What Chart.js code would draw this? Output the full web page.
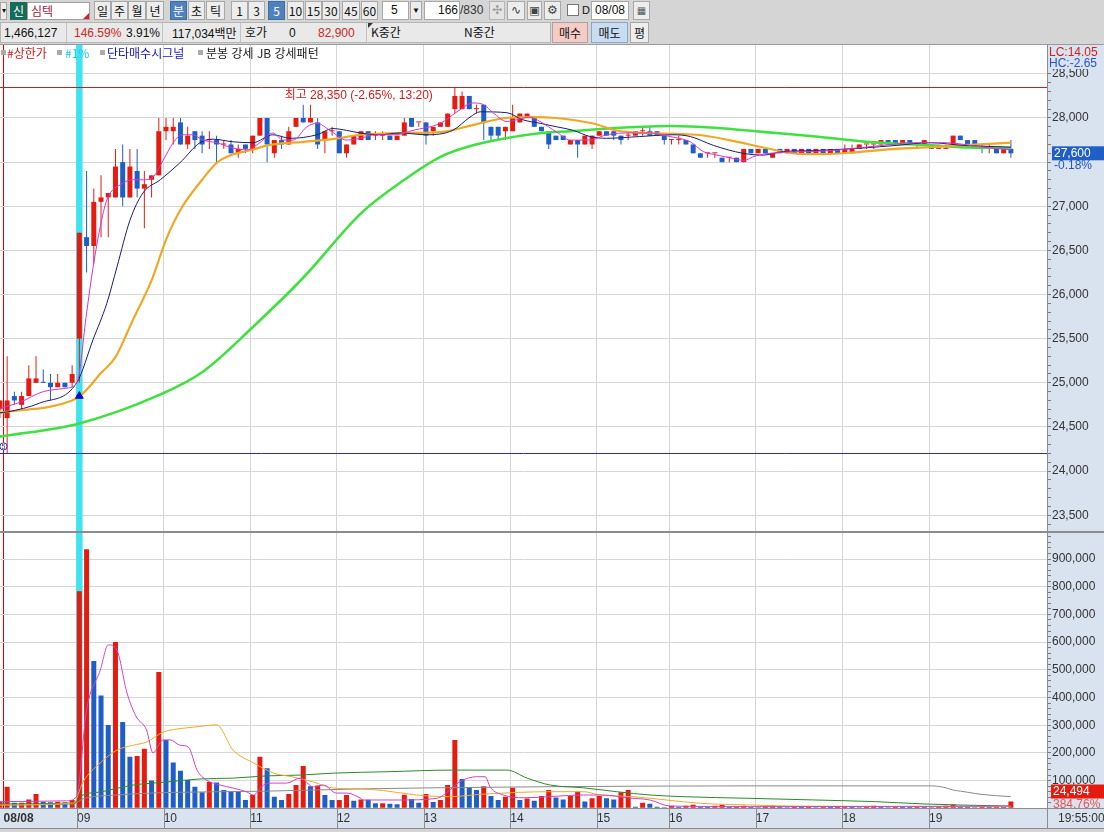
<!DOCTYPE html>
<html lang="ko">
<head>
<meta charset="utf-8">
<title>심텍 5분봉 차트</title>
<script src="https://cdn.jsdelivr.net/npm/chart.js"></script>
<style>
*{box-sizing:border-box}
html,body{margin:0;padding:0}
body{width:1104px;height:832px;overflow:hidden;position:relative;background:#d5d5d5;font-family:"Liberation Sans","Noto Sans CJK KR",sans-serif;font-size:12px;color:#111}
.a{position:absolute;white-space:nowrap;line-height:1}
.b{position:absolute;top:1px;height:19px;line-height:17px;text-align:center;background:#ededed;border:1px solid #a8a8a8;color:#111;font-family:"Noto Sans CJK KR","Liberation Sans",sans-serif;font-size:12px}
.s{background:#4f81bd;border-color:#3d6ea8;color:#fff}
.k{font-family:"Noto Sans CJK KR","Liberation Sans",sans-serif}
canvas{position:absolute;left:0;display:block}
#leg{position:absolute;left:0;top:45px;width:400px;height:15px;font-family:"Noto Sans CJK KR",sans-serif;font-size:12px;z-index:5}
#leg span{position:absolute;top:0;line-height:15px;white-space:nowrap}
#leg i{position:absolute;top:5px;width:5px;height:5px;background:#ababab}
</style>
</head>
<body>
<!-- toolbar -->
<div class="a" style="left:0;top:0;width:1104px;height:45px;background:#d5d5d5;border-bottom:1px solid #9a9a9a"></div>
<div class="a" style="left:0;top:2px;width:7px;height:18px;background:#ededed;border:1px solid #a8a8a8;font-size:8px;line-height:16px;text-align:center">▾</div>
<div class="a k" style="left:10px;top:2px;width:17px;height:18px;background:#176b5b;color:#fff;text-align:center;line-height:18px">신</div>
<div class="a k" style="left:27px;top:2px;width:63px;height:18px;background:#fff;border:1px solid #a0a0a0;color:#a01840;padding-left:3px;line-height:16px">심텍</div>
<div class="a" style="left:83px;top:13px;width:0;height:0;border-left:6px solid transparent;border-bottom:6px solid #d0202a"></div>
<div id="btns"></div>
<div class="a" style="left:382px;top:1px;width:27px;height:19px;background:#fff;border:1px solid #a8a8a8;line-height:17px;padding-left:8px">5</div>
<div class="a" style="left:410px;top:1px;width:12px;height:19px;background:#ededed;border:1px solid #a8a8a8;line-height:17px;font-size:8px;text-align:center">▼</div>
<div class="a" style="left:424px;top:1px;width:36px;height:19px;background:#fff;border:1px solid #a8a8a8;line-height:17px;text-align:right;padding-right:1px">166</div>
<div class="a" style="left:460px;top:1px;line-height:19px;color:#333">/830</div>
<div class="a" style="left:489px;top:1px;width:16px;height:19px;background:#e4e4e4;border:1px solid #b5b5b5;color:#999;text-align:center;line-height:17px;font-family:'DejaVu Sans'">✣</div>
<div class="a" style="left:507px;top:1px;width:18px;height:19px;background:#ededed;border:1px solid #a8a8a8;color:#444;text-align:center;line-height:17px;font-family:'DejaVu Sans'">∿</div>
<div class="a" style="left:527px;top:1px;width:15px;height:19px;background:#ededed;border:1px solid #a8a8a8;color:#444;text-align:center;line-height:17px;font-family:'DejaVu Sans';font-size:11px">▣</div>
<div class="a" style="left:544px;top:1px;width:17px;height:19px;background:#ededed;border:1px solid #a8a8a8;color:#444;text-align:center;line-height:17px;font-family:'DejaVu Sans'">⚙</div>
<div class="a" style="left:567px;top:4px;width:12px;height:12px;background:#fff;border:1px solid #777"></div>
<div class="a" style="left:582px;top:2px;line-height:17px;font-size:11px">D</div>
<div class="a" style="left:591px;top:1px;width:38px;height:19px;background:#fff;border:1px solid #a8a8a8;line-height:17px;padding-left:3px">08/08</div>
<div class="a" style="left:633px;top:1px;width:17px;height:19px;background:#ededed;border:1px solid #a8a8a8;color:#555;text-align:center;line-height:17px;font-family:'DejaVu Sans';font-size:10px">▦</div>

<div class="a" style="left:0;top:22px;width:551px;height:21px;background:#e9e9e9;border:1px solid #b5b5b5"></div>
<div class="a" style="left:66px;top:23px;width:1px;height:19px;background:#c3c3c3"></div>
<div class="a" style="left:162px;top:23px;width:1px;height:19px;background:#c3c3c3"></div>
<div class="a" style="left:240px;top:23px;width:1px;height:19px;background:#c3c3c3"></div>
<div class="a" style="left:366px;top:23px;width:1px;height:19px;background:#c3c3c3"></div>
<div class="a" style="left:4px;top:27px">1,466,127</div>
<div class="a" style="left:74px;top:27px;color:#c8281e">146.59%</div>
<div class="a" style="left:126px;top:27px">3.91%</div>
<div class="a" style="left:172px;top:27px">117,034<span class="k">백만</span></div>
<div class="a k" style="left:245px;top:26px">호가</div>
<div class="a" style="left:289px;top:27px">0</div>
<div class="a" style="left:318px;top:27px;color:#c8281e">82,900</div>
<div class="a" style="left:368px;top:23px;width:0;height:0;border-right:5px solid transparent;border-top:5px solid #333"></div>
<div class="a k" style="left:371px;top:26px">K중간</div>
<div class="a k" style="left:464px;top:26px">N중간</div>
<div class="a k" style="left:552px;top:22px;width:36px;height:21px;background:#f5cbc6;border:1px solid #b0a0a0;text-align:center;line-height:19px">매수</div>
<div class="a k" style="left:591px;top:22px;width:37px;height:21px;background:#c8dcf2;border:1px solid #8aa6c4;text-align:center;line-height:19px">매도</div>
<div class="a k" style="left:630px;top:22px;width:19px;height:21px;background:#ededed;border:1px solid #a8a8a8;text-align:center;line-height:19px">평</div>

<canvas id="price" width="1104" height="487" style="top:45px"></canvas>
<canvas id="vol" width="1104" height="300" style="top:532px"></canvas>

<div id="leg">
  <i style="left:1px"></i><span style="left:7px;color:#d01c1c">#상한가</span>
  <i style="left:57px"></i><span style="left:65px;color:#22c8e0">#1%</span>
  <i style="left:100px"></i><span style="left:107px;color:#1414c0">단타매수시그널</span>
  <i style="left:198px"></i><span style="left:206px;color:#222">분봉 강세 JB 강세패턴</span>
</div>

<script>
// ================= DATA =================
// candle index 0 = previous session's last bar, 1..10 = 08:00-08:45, 11 = 09:00 ... 140 = 19:55
const OPEN = [
 24700,24600,24850,24750,24850,25000,25000,25000,24950,25000,25000,
 25500,26650,26550,27050,27100,27100,27500,27100,27400,27200,
 27300,27350,27850,27850,27950,27700,27850,27800,27750,27750,
 27700,27700,27600,27700,27650,27800,28000,27600,27750,27700,
 27900,28000,27950,27950,27750,27850,27850,27600,27700,27750,
 27850,27800,27800,27800,27750,27800,28000,27950,27950,27850,
 27900,27900,28100,28100,28250,28100,28150,27900,27900,27850,
 27850,27950,28000,28000,27900,27850,27800,27800,27700,27750,
 27700,27700,27800,27850,27850,27800,27800,27800,27850,27850,
 27850,27800,27750,27750,27750,27700,27600,27600,27600,27550,
 27550,27550,27500,27650,27600,27650,27550,27650,27600,27650,
 27600,27650,27600,27650,27600,27650,27600,27600,27650,27700,
 27700,27700,27750,27750,27700,27750,27700,27700,27700,27650,
 27650,27700,27800,27750,27750,27650,27650,27650,27600,27650];
const HIGH = [
 24800,25300,24900,24900,25200,25300,25150,25100,25100,25000,25200,
 26700,27400,27200,27350,27150,27650,27700,27650,27650,27400,
 27350,28000,28000,28000,28000,27900,27850,27850,27850,27800,
 27750,27750,27700,27700,27800,28000,28000,27750,27800,27900,
 28000,28150,28150,28000,27850,27900,27850,27700,27800,27850,
 27850,27850,27850,27800,27800,28000,28000,27950,27950,27900,
 27950,28050,28350,28300,28250,28150,28150,27900,27900,27900,
 28150,28050,28050,28000,27900,27850,27800,27800,27750,27750,
 27800,27800,27850,27850,27850,27800,27850,27850,27900,27900,
 27850,27800,27750,27800,27750,27700,27600,27600,27600,27550,
 27550,27550,27650,27650,27650,27650,27600,27650,27650,27650,
 27650,27650,27650,27650,27650,27650,27700,27700,27700,27700,
 27700,27750,27750,27750,27750,27750,27700,27750,27700,27700,
 27700,27800,27800,27750,27750,27700,27700,27650,27650,27750];
const LOW = [
 24600,24200,24750,24700,24850,25000,25000,24800,24950,24950,24950,
 25000,26250,26350,26650,26650,27100,27000,27100,27100,26750,
 27100,27350,27750,27700,27700,27650,27650,27600,27650,27500,
 27650,27600,27550,27600,27600,27800,27500,27550,27650,27700,
 27900,27950,27950,27650,27600,27800,27600,27550,27700,27750,
 27750,27750,27750,27750,27750,27800,27900,27900,27700,27800,
 27900,27900,28050,28100,28100,28050,27750,27750,27750,27750,
 27850,27950,28000,27900,27850,27650,27750,27750,27700,27550,
 27700,27650,27800,27800,27750,27700,27750,27800,27800,27800,
 27800,27700,27700,27700,27700,27600,27550,27550,27550,27500,
 27500,27500,27500,27600,27600,27600,27550,27600,27600,27600,
 27600,27600,27600,27600,27600,27600,27600,27600,27650,27650,
 27650,27700,27700,27700,27700,27700,27650,27700,27650,27650,
 27650,27700,27750,27700,27700,27600,27600,27600,27600,27550];
const CLOSE = [
 24800,24800,24800,24850,25050,25050,25000,24950,25000,24950,25100,
 26700,26550,27050,27100,27150,27450,27100,27450,27200,27250,
 27350,27850,27900,27900,27700,27800,27750,27700,27750,27700,
 27700,27600,27650,27650,27800,28000,27700,27750,27700,27850,
 28000,27950,28000,27700,27850,27850,27600,27700,27800,27850,
 27750,27800,27800,27750,27800,27950,27900,27950,27800,27900,
 27950,28050,28250,28250,28100,28100,27950,27800,27800,27900,
 28000,28050,28050,27900,27850,27700,27750,27750,27750,27700,
 27800,27800,27850,27800,27800,27750,27800,27850,27850,27800,
 27800,27750,27750,27750,27700,27600,27550,27600,27600,27500,
 27550,27500,27650,27600,27650,27600,27600,27600,27650,27600,
 27650,27600,27650,27600,27650,27600,27650,27650,27700,27700,
 27700,27750,27700,27700,27750,27700,27700,27750,27650,27650,
 27650,27800,27750,27700,27700,27650,27650,27600,27650,27600];
const VOLUME = [
 24000,78000,20000,20000,32000,52000,24000,22000,24000,22000,30000,
 784000,935000,532000,407000,301000,600000,312000,186000,189000,215000,
 100000,492000,247000,165000,136000,102000,78000,58000,95000,93000,
 66000,61000,60000,30000,48000,186000,145000,42000,30000,52000,
 84000,153000,80000,82000,48000,30000,30000,48000,27000,32000,
 31000,18000,18000,16000,15000,49000,34000,20000,52000,23000,
 30000,84000,247000,106000,76000,66000,80000,44000,30000,42000,
 74000,30000,35000,27000,44000,66000,39000,32000,44000,60000,
 25000,36000,44000,36000,32000,58000,66000,6000,20000,16000,
 6000,3000,9000,6000,9000,13000,6000,5000,9000,13000,
 6000,6000,9000,5000,4000,7000,9000,6000,4000,8000,
 5000,6000,4000,7000,5000,6000,8000,5000,4000,6000,
 9000,5000,4000,7000,6000,5000,8000,6000,4000,5000,
 9000,14000,6000,5000,4000,7000,5000,6000,5000,24494];

// moving-average lines: [candle index, value]
const P_MA5 = [[0,24710],[2.8,24780],[6,24900],[9.3,24940],[10.7,25010],[12,25790],[12.9,26310],[13.9,26770],[14.8,27070],[17,27260],[18.4,27300],[19.8,27300],[21.2,27330],[22.6,27520],[24,27720],[25.2,27810],[26.7,27810],[28.1,27750],[30,27720],[32.3,27660],[34.2,27640],[36,27720],[37.8,27830],[39.2,27750],[40.6,27750],[42.5,27900],[43.9,27940],[45.7,27860],[48,27750],[49.9,27770],[52,27810],[54.7,27810],[57.2,27860],[61,27940],[63.3,28070],[65.5,28170],[67,28150],[68.3,28060],[70.2,27960],[73.4,28010],[74.8,27960],[77.1,27840],[79,27750],[81.7,27750],[84,27810],[87.3,27830],[90,27830],[92.8,27790],[95.6,27730],[97.4,27620],[99.3,27580],[101,27550],[103,27520],[104.6,27570],[106.6,27600],[115,27630],[118.7,27660],[122.3,27690],[126.5,27720],[131,27720],[136,27670],[140,27640]];
const P_MA10 = [[0,24660],[1,24670],[5.5,24770],[10.7,25010],[12.9,25490],[14.8,25900],[16.2,26310],[18,26840],[19.8,27150],[22.2,27300],[24.9,27490],[27.7,27720],[29.5,27760],[32.3,27730],[35,27720],[37.8,27810],[40.2,27770],[43.9,27810],[46.1,27880],[48,27860],[49.9,27830],[52.6,27810],[55.4,27830],[59.1,27810],[62.7,27860],[65.1,28010],[66.5,28070],[70.2,28060],[72.4,27980],[74.8,27940],[77.1,27900],[79.4,27860],[81.7,27790],[84,27770],[88.6,27790],[93.2,27810],[95.6,27790],[98.8,27690],[102.9,27600],[105.7,27580],[108.5,27620],[112.6,27630],[119.5,27660],[124.2,27690],[128.8,27720],[133.4,27690],[140,27670]];
const P_MA20 = [[0,24660],[10,24800],[11.5,24880],[14,25110],[16,25290],[18.4,25710],[21,26160],[23,26620],[25,26960],[28,27300],[30,27490],[32,27580],[35,27640],[37,27690],[42,27730],[46,27760],[50,27810],[56,27830],[61,27840],[65.5,27920],[70,28000],[74,28010],[77,28000],[82,27940],[86,27850],[96.5,27810],[101,27750],[106,27660],[110,27600],[114,27590],[119.5,27620],[124,27650],[129,27670],[133,27690],[140,27720]];
const P_MA60 = [[0,24390],[11,24540],[22,24860],[28,25120],[35,25630],[42,26190],[50,26920],[56,27300],[61,27560],[65.5,27690],[70,27770],[75,27830],[79,27850],[86,27890],[93,27910],[99,27890],[106,27840],[113,27790],[120,27730],[129,27690],[133,27670],[140,27660]];

const V_MA5 = [[0,24000],[9.2,27000],[10.6,42000],[12,355000],[13.9,499000],[15,590000],[16.2,571000],[17.6,416000],[18.9,330000],[20.3,283000],[21.2,200000],[22.6,247000],[23.6,247000],[24.9,228000],[26.1,221000],[27.3,138000],[28.6,102000],[30.5,84000],[32.3,73000],[34.2,59000],[35.1,48000],[36.5,84000],[37.9,91000],[39.7,91000],[41.6,109000],[43.4,77000],[44.8,84000],[46.6,55000],[48,55000],[49.9,37000],[50.3,30000],[55.4,30000],[60.5,36000],[62.3,66000],[63.7,96000],[66,114000],[67.2,114000],[67.9,76000],[69.7,48000],[72.5,38000],[80.8,48000],[83.6,48000],[86.8,38000],[90,30000],[92.8,8000],[103.9,6000],[140,8000]];
const V_MA20 = [[0,12000],[10.2,19000],[11.5,95000],[13.9,164000],[16.2,210000],[18.5,228000],[20.3,239000],[22.6,275000],[24.5,286000],[26.8,293000],[30,301000],[32.3,210000],[35.1,164000],[37.9,127000],[40.6,113000],[43.4,95000],[46.2,73000],[49.9,70000],[53.1,64000],[57.7,48000],[62.3,42000],[66.9,51000],[76.2,60000],[80.8,60000],[83.1,48000],[87.7,42000],[92.3,30000],[97,18000],[103.9,12000],[110,8000],[140,6000]];
const V_MA60 = [[0,16000],[10.2,19000],[11.5,48000],[13.9,59000],[18.5,84000],[23.1,95000],[27.7,106000],[32.3,109000],[36.9,117000],[41.6,120000],[46.2,127000],[53.6,132000],[62.8,138000],[70.2,138000],[73,109000],[76.2,84000],[80.8,74000],[85.4,60000],[90,48000],[94.6,42000],[103.9,36000],[112.9,30000],[121.2,24000],[127.7,16000],[132.7,12000],[140,8000]];
const V_MA120 = [[0,12000],[10.2,16000],[11.5,34000],[16.2,48000],[20.8,55000],[27.7,59000],[36.9,62000],[49.9,70000],[60,74000],[76.2,78000],[103.9,81000],[129,81000],[131,74000],[132,66000],[133,62000],[134,58000],[136,50000],[140,42000]];

const TIME_LABELS = ['08/08','09','10','11','12','13','14','15','16','17','18','19'];
const HOUR_IDX = [11,23,35,47,59,71,83,93,105,117,129];
const DAY_SEP = 0.5;
const PRICE_LABELS = [23500,24000,24500,25000,25500,26000,26500,27000,27500,28000,28500];
const VOL_LABELS = [100000,200000,300000,400000,500000,600000,700000,800000,900000];

const SIGNAL_IDX = 11, ARROW_PRICE = 24850;
const HIGH_PRICE = 28350, HIGH_IDX = 63, HIGH_TEXT = '최고 28,350 (-2.65%, 13:20)';
const LOW_PRICE = 24200;
const LAST_PRICE = 27600, LAST_CHG = '-0.18%';
const LC_TEXT = 'LC:14.05', HC_TEXT = 'HC:-2.65';
const LAST_VOL = 24494, VOL_RATIO = '384.76%';
const END_TIME = '19:55:00';

// ================= STYLE / LAYOUT =================
const RED = '#e61b10', BLUE = '#1f5ec6', CYAN = '#3ee4f2', GRID = '#d6d6d6', PANEL = '#d9e3ef', SEP_RED = '#e00000';
const FONT = '"Liberation Sans", "Noto Sans CJK KR", sans-serif';
const AXIS_W = 57, BAND_H = 19.7;
const X_MIN = 0.01, X_MAX = 145.0;
const P_MIN = 23321, P_MAX = 28827;
const V_MAX = 994000;
const GRID_SHIFT = 0.33;

const fmt = v => v.toLocaleString('en-US');
const IDX = OPEN.map((_, i) => i);
const upCandle = IDX.map(i => CLOSE[i] > OPEN[i] || (CLOSE[i] === OPEN[i] && (i === 0 || CLOSE[i] >= CLOSE[i - 1])));
const upVol = IDX.map(i => i === 0 || VOLUME[i] >= VOLUME[i - 1]);
const pts = arr => arr.map(([x, y]) => ({x, y}));
const TICK_POS = [DAY_SEP].concat(HOUR_IDX.map(v => v - GRID_SHIFT));

// buttons in top toolbar
const TOP_BUTTONS = [['일',94,17],['주',111,17],['월',128,18],['년',146,18],['분',170,17,1],['초',188,17],['틱',206,19],['1',231,17],['3',248,17],['5',268,17,1],['10',287,17],['15',305,17],['30',322,18],['45',342,18],['60',361,17]];
const bw = document.getElementById('btns');
TOP_BUTTONS.forEach(([t, l, w, s]) => {
  const d = document.createElement('div');
  d.className = 'b' + (s ? ' s' : '');
  d.style.left = l + 'px'; d.style.width = w + 'px';
  d.textContent = t; bw.appendChild(d);
});

function xScale(show) {
  return {
    type: 'linear', min: X_MIN, max: X_MAX, offset: false,
    afterBuildTicks: ax => { ax.ticks = TICK_POS.map(v => ({value: v})); },
    afterFit: ax => { ax.height = show ? BAND_H : 0; ax.paddingLeft = 0; ax.paddingRight = 0; },
    grid: { offset: false, color: c => c.index === 0 ? SEP_RED : GRID, lineWidth: 1, drawTicks: false },
    border: { display: false },
    ticks: {
      display: show, autoSkip: false, maxRotation: 0, minRotation: 0, align: 'start', padding: 3, color: '#333',
      font: c => ({family: FONT, size: 12, weight: c.index === 0 ? 'bold' : 'normal'}),
      callback: (v, i) => TIME_LABELS[i]
    }
  };
}

function panelBackground(chart) {
  const {ctx, chartArea: a, width, height} = chart;
  ctx.save();
  ctx.fillStyle = '#ffffff'; ctx.fillRect(0, 0, a.right, height);
  ctx.fillStyle = PANEL; ctx.fillRect(a.right, 0, width - a.right, height);
  ctx.restore();
}

function drawSignal(chart) {
  const {ctx, chartArea: a, scales: {x}} = chart;
  const sx = x.getPixelForValue(SIGNAL_IDX);
  ctx.save();
  ctx.fillStyle = CYAN;
  ctx.fillRect(sx - 3.2, a.top, 6.4, a.bottom - a.top);
  ctx.restore();
}

const pricePlugin = {
  id: 'pricePanel',
  beforeDraw(chart) { panelBackground(chart); },
  beforeDatasetsDraw(chart) {
    const {ctx, chartArea: a, scales: {y}} = chart;
    drawSignal(chart);
    ctx.save();
    ctx.lineWidth = 1;
    let yy = Math.round(y.getPixelForValue(HIGH_PRICE)) + 0.5;
    ctx.strokeStyle = '#c81e1e';
    ctx.beginPath(); ctx.moveTo(a.left, yy); ctx.lineTo(a.right, yy); ctx.stroke();
    yy = Math.round(y.getPixelForValue(LOW_PRICE)) + 0.5;
    ctx.strokeStyle = '#2a2abc';
    ctx.beginPath(); ctx.moveTo(a.left, yy); ctx.lineTo(a.right, yy); ctx.stroke();
    ctx.restore();
  },
  afterDatasetsDraw(chart) {
    const {ctx, scales: {x, y}} = chart;
    ctx.save();
    ctx.font = '12px ' + FONT;
    ctx.fillStyle = '#d01c1c'; ctx.textAlign = 'right'; ctx.textBaseline = 'middle';
    ctx.fillText(HIGH_TEXT, x.getPixelForValue(HIGH_IDX) - 22, y.getPixelForValue(HIGH_PRICE) + 8.5);
    // low marker
    const lx = x.getPixelForValue(0) + 3.5, ly = y.getPixelForValue(LOW_PRICE) - 7;
    ctx.strokeStyle = '#3030b0'; ctx.lineWidth = 1; ctx.fillStyle = '#fff';
    ctx.beginPath(); ctx.arc(lx, ly, 3.6, 0, Math.PI * 2); ctx.fill(); ctx.stroke();
    ctx.fillStyle = '#3030b0'; ctx.font = '7px ' + FONT; ctx.textAlign = 'center';
    ctx.fillText('5', lx, ly + 0.5);
    ctx.restore();
  },
  afterDraw(chart) {
    const {ctx, chartArea: a, width, height, scales: {y}} = chart;
    ctx.save();
    ctx.strokeStyle = '#8c8c8c'; ctx.lineWidth = 1;
    ctx.beginPath(); ctx.moveTo(0, height - 0.5); ctx.lineTo(width, height - 0.5); ctx.stroke();
    // LC / HC
    ctx.fillStyle = PANEL; ctx.fillRect(a.right + 1, 0, width - a.right, 24);
    ctx.font = '12px ' + FONT; ctx.textAlign = 'left'; ctx.textBaseline = 'middle';
    ctx.fillStyle = '#d02020'; ctx.fillText(LC_TEXT, a.right + 2, 8);
    ctx.fillStyle = '#2552d0'; ctx.fillText(HC_TEXT, a.right + 2, 19);
    // current price box
    const cy = y.getPixelForValue(LAST_PRICE);
    ctx.fillStyle = PANEL; ctx.fillRect(a.right + 5, cy + 6, width - a.right - 5, 13);
    ctx.fillStyle = BLUE; ctx.fillRect(a.right + 5, cy - 7, width - a.right - 5, 14);
    ctx.fillStyle = '#fff'; ctx.fillText(fmt(LAST_PRICE), a.right + 7, cy + 0.5);
    ctx.fillStyle = '#2552d0'; ctx.fillText(LAST_CHG, a.right + 7, cy + 12.5);
    ctx.restore();
  }
};

const volPlugin = {
  id: 'volPanel',
  beforeDraw(chart) {
    const {ctx, chartArea: a, width, height} = chart;
    panelBackground(chart);
    ctx.save();
    ctx.fillStyle = PANEL; ctx.fillRect(0, a.bottom, width, BAND_H);
    ctx.fillStyle = '#d5d5d5'; ctx.fillRect(0, a.bottom + BAND_H, width, height);
    ctx.restore();
  },
  beforeDatasetsDraw(chart) { drawSignal(chart); },
  afterDraw(chart) {
    const {ctx, chartArea: a, width, scales: {x, y}} = chart;
    ctx.save();
    ctx.strokeStyle = '#8c8c8c'; ctx.lineWidth = 1;
    ctx.beginPath();
    ctx.moveTo(0, 0.5); ctx.lineTo(width, 0.5);
    const b0 = Math.round(a.bottom) + 0.5, b1 = Math.round(a.bottom + BAND_H) + 0.5;
    ctx.moveTo(0, b0); ctx.lineTo(width, b0);
    ctx.moveTo(0, b1); ctx.lineTo(width, b1);
    ctx.moveTo(a.right + 0.5, b0); ctx.lineTo(a.right + 0.5, b1);
    x.ticks.forEach((t, i) => {
      if (i === 0) return;
      const px = Math.round(x.getPixelForValue(t.value)) + 0.5;
      ctx.moveTo(px, b0); ctx.lineTo(px, b1);
    });
    ctx.stroke();
    ctx.font = '12px ' + FONT; ctx.textAlign = 'left'; ctx.textBaseline = 'middle';
    ctx.fillStyle = '#333'; ctx.fillText(END_TIME, a.right + 11, a.bottom + BAND_H / 2 + 0.5);
    const cy = y.getPixelForValue(LAST_VOL) - 10;
    ctx.fillStyle = RED; ctx.fillRect(a.right + 4, cy - 7, width - a.right - 4, 14);
    ctx.fillStyle = '#fff'; ctx.fillText(fmt(LAST_VOL), a.right + 6, cy + 0.5);
    ctx.fillStyle = '#e45454'; ctx.fillText(VOL_RATIO, a.right + 6, cy + 13);
    ctx.restore();
  }
};

Chart.defaults.font.family = FONT;

const line = (data, color, w, order) => ({
  type: 'line', data: pts(data), borderColor: color, backgroundColor: color, borderWidth: w,
  pointRadius: 0, cubicInterpolationMode: 'monotone', order, fill: false
});

new Chart(document.getElementById('price'), {
  type: 'bar',
  data: {
    datasets: [
      {type: 'bar', data: IDX.map(i => ({x: i, y: [LOW[i], HIGH[i]]})), backgroundColor: IDX.map(i => upCandle[i] ? RED : BLUE),
       grouped: false, maxBarThickness: 1, minBarLength: 1, borderWidth: 0, order: 3},
      {type: 'bar', data: IDX.map(i => ({x: i, y: [OPEN[i], CLOSE[i]]})), backgroundColor: IDX.map(i => upCandle[i] ? RED : BLUE),
       grouped: false, maxBarThickness: 5, minBarLength: 1, borderWidth: 0, order: 2},
      line(P_MA60, '#3fe03f', 2.6, -1),
      line(P_MA20, '#f0a823', 2.2, -2),
      line(P_MA10, '#1c1c7a', 1, -3),
      line(P_MA5, '#d535d5', 1, -4),
      {type: 'line', data: [{x: SIGNAL_IDX, y: ARROW_PRICE}], showLine: false, pointStyle: 'triangle', pointRadius: 4.5,
       backgroundColor: '#0c0cc8', borderColor: '#0c0cc8', borderWidth: 1, order: -5}
    ]
  },
  options: {
    responsive: false, animation: false, events: [],
    layout: {autoPadding: false, padding: {top: 0, bottom: 1, left: 0, right: 0}},
    plugins: {legend: {display: false}, tooltip: {enabled: false}},
    scales: {
      x: xScale(false),
      y: {
        position: 'right', min: P_MIN, max: P_MAX,
        afterBuildTicks: ax => { const t = []; for (let v = Math.ceil(P_MIN / 100) * 100; v <= P_MAX; v += 100) t.push({value: v}); ax.ticks = t; },
        afterFit: ax => { ax.width = AXIS_W; ax.paddingTop = 0; ax.paddingBottom = 0; },
        grid: {color: c => (c.tick && PRICE_LABELS.includes(c.tick.value)) ? GRID : 'rgba(0,0,0,0)', tickColor: '#7a7a7a', tickLength: 4, drawTicks: true},
        border: {display: true, color: '#8c8c8c'},
        ticks: {autoSkip: false, padding: 1, color: '#333', font: {family: FONT, size: 12},
                callback: v => PRICE_LABELS.includes(v) ? fmt(v) : ''}
      }
    }
  },
  plugins: [pricePlugin]
});

new Chart(document.getElementById('vol'), {
  type: 'bar',
  data: {
    datasets: [
      {type: 'bar', data: IDX.map(i => ({x: i, y: VOLUME[i]})), backgroundColor: IDX.map(i => upVol[i] ? RED : BLUE),
       grouped: false, maxBarThickness: 5, minBarLength: 1, borderWidth: 0, order: 2},
      line(V_MA120, '#8a8a8a', 1, -1),
      line(V_MA60, '#2a8a2a', 1, -2),
      line(V_MA20, '#f0aa28', 1, -3),
      line(V_MA5, '#d040d0', 1, -4)
    ]
  },
  options: {
    responsive: false, animation: false, events: [],
    layout: {autoPadding: false, padding: {top: 1, bottom: 4, left: 0, right: 0}},
    plugins: {legend: {display: false}, tooltip: {enabled: false}},
    scales: {
      x: xScale(true),
      y: {
        position: 'right', min: 0, max: V_MAX,
        afterBuildTicks: ax => { const t = []; for (let v = 0; v <= V_MAX; v += 20000) t.push({value: v}); ax.ticks = t; },
        afterFit: ax => { ax.width = AXIS_W; ax.paddingTop = 0; ax.paddingBottom = 0; },
        grid: {color: c => (c.tick && VOL_LABELS.includes(c.tick.value)) ? GRID : 'rgba(0,0,0,0)', tickColor: '#7a7a7a', tickLength: 4, drawTicks: true},
        border: {display: true, color: '#8c8c8c'},
        ticks: {autoSkip: false, padding: 1, color: '#333', font: {family: FONT, size: 12},
                callback: v => VOL_LABELS.includes(v) ? fmt(v) : ''}
      }
    }
  },
  plugins: [volPlugin]
});
</script>
</body>
</html>
